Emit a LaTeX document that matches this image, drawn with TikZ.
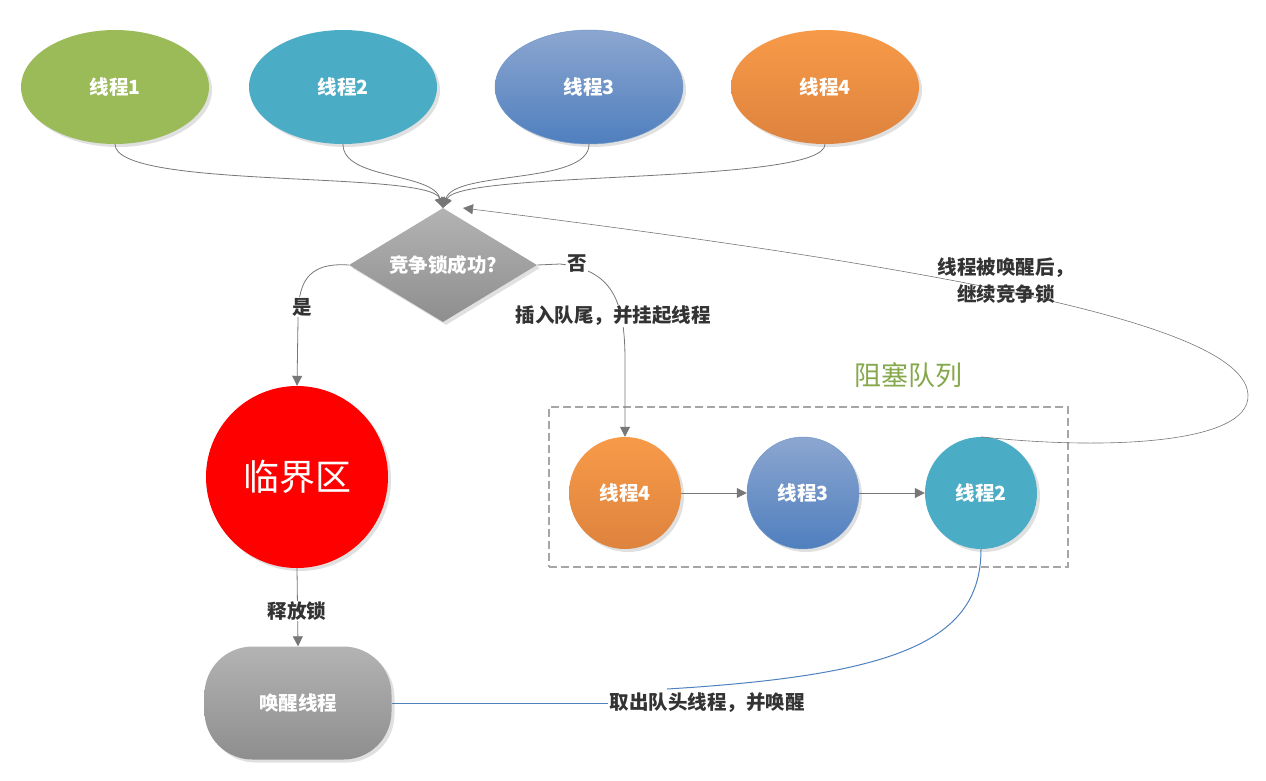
\documentclass[tikz,border=0pt]{standalone}
\usepackage{fontspec}
\setmainfont{Noto Sans CJK SC}
\usetikzlibrary{arrows.meta,shapes.geometric,shadows}
\definecolor{cgreen}{HTML}{9BBB59}
\definecolor{cteal}{HTML}{4BACC6}
\definecolor{cbluetop}{HTML}{8CA6D0}
\definecolor{cbluebot}{HTML}{4F7FBE}
\definecolor{corangetop}{HTML}{F79A48}
\definecolor{corangebot}{HTML}{DE833E}
\definecolor{cgraytop}{HTML}{B3B3B3}
\definecolor{cgraybot}{HTML}{8E8E8E}
\definecolor{cline}{HTML}{777777}
\definecolor{ctext}{HTML}{333333}
\definecolor{cqueue}{HTML}{86A84C}
\definecolor{cblueline}{HTML}{4F81BD}
\definecolor{cdash}{HTML}{A6A6A6}
\tikzset{
  shad/.style={drop shadow={shadow xshift=3pt,shadow yshift=-3pt,fill=black!12,opacity=1}},
  thread/.style={ellipse, minimum width=188pt, minimum height=114pt, inner sep=0pt,
    text=white, font=\fontsize{19.5}{23}\selectfont\bfseries, shad},
  qnode/.style={circle, minimum size=112pt, inner sep=0pt,
    text=white, font=\fontsize{19.5}{23}\selectfont\bfseries, shad},
  lbl/.style={text=ctext, font=\fontsize{19.5}{23}\selectfont\bfseries, fill=white, inner sep=1pt},
  conn/.style={draw=cline, line width=0.8pt},
  arr/.style={conn, -{Triangle[width=10pt,length=10pt]}},
}
\begin{document}
\begin{tikzpicture}[x=1pt,y=-1pt]
\useasboundingbox (0,0) rectangle (1266,780);
% top threads
\node[thread, fill=cgreen] (t1) at (115,87) {线程1};
\node[thread, fill=cteal] (t2) at (343,87) {线程2};
\node[thread, top color=cbluetop, bottom color=cbluebot, draw=cbluebot!80, line width=0.5pt] (t3) at (589,87) {线程3};
\node[thread, top color=corangetop, bottom color=corangebot] (t4) at (825,87) {线程4};
% decision
\node[diamond, aspect=1.65, minimum width=188pt, minimum height=114pt, inner sep=0pt,
  top color=cgraytop, bottom color=cgraybot, text=white,
  font=\fontsize{19.5}{23}\selectfont\bfseries, shad] (d) at (443,265) {竞争锁成功?};
% critical section
\node[circle, minimum size=182pt, inner sep=0pt, fill=red, text=white,
  font=\fontsize{36}{42}\selectfont, shad] (crit) at (297,477) {临界区};
% wake
\node[rectangle, rounded corners=48pt, minimum width=187pt, minimum height=113pt,
  top color=cgraytop, bottom color=cgraybot, text=white,
  font=\fontsize{19.5}{23}\selectfont\bfseries, shad] (wake) at (298,703) {唤醒线程};
% queue box
\node[draw=cdash, dash pattern=on 8pt off 4pt, line width=1.5pt, minimum width=519pt,
  minimum height=160pt, inner sep=0pt] (qbox) at (808.5,487) {};
\node[text=cqueue, font=\fontsize{27}{32}\selectfont] (qtitle) at (908,375) {阻塞队列};
\node[qnode, top color=corangetop, bottom color=corangebot] (q4) at (625,493) {线程4};
\node[qnode, top color=cbluetop, bottom color=cbluebot, draw=cbluebot!80, line width=0.5pt] (q3) at (803,493) {线程3};
\node[qnode, fill=cteal] (q2) at (981,493) {线程2};
% merging arrows into decision
\draw[arr] (t1.south) .. controls (115,190) and (430,170) .. (d.north);
\draw[arr] (t2.south) .. controls (343,180) and (432,172) .. (d.north);
\draw[arr] (t3.south) .. controls (589,185) and (455,170) .. (d.north);
\draw[arr] (t4.south) .. controls (825,185) and (460,170) .. (d.north);
% yes branch
\draw[arr] (d.west) .. controls (305,262) and (298,285) .. (298,320) -- (crit.north);
\node[lbl] (yes) at (302,307) {是};
% no branch
\coordinate (nobend) at (560,264);
\draw[arr] (d.east) -- (nobend) .. controls (612,270) and (625,300) .. (625,360) -- (q4.north);
\node[lbl] (no) at (577,264) {否};
\node[lbl] (ins) at (613,316) {插入队尾，并挂起线程};
% release lock
\draw[arr] (crit.south) -- (wake.north);
\node[lbl] (rel) at (297,611) {释放锁};
% queue arrows
\draw[arr] (q4.east) -- (q3.west);
\draw[arr] (q3.east) -- (q2.west);
% return loop
\coordinate (ret) at (463,208);
\draw[arr, line width=0.6pt] (q2.north) .. controls (1100,450) and (1250,445) .. (1248,395)
  .. controls (1245,330) and (1000,275) .. (ret);
\node[text=ctext, font=\fontsize{19.5}{27}\selectfont\bfseries, align=center] (wk) at (1006,281) {线程被唤醒后，\\继续竞争锁};
% take head & wake
\node[text=ctext, font=\fontsize{19.5}{23}\selectfont\bfseries, inner sep=1pt] (take) at (707,703) {取出队头线程，并唤醒};
\coordinate (takein) at (667,689);
\draw[draw=cblueline, line width=1pt] (wake.east) -- (take.west);
\draw[draw=cblueline, line width=1pt] (q2.south) .. controls (981,640) and (900,675) .. (takein);
\end{tikzpicture}
\end{document}
